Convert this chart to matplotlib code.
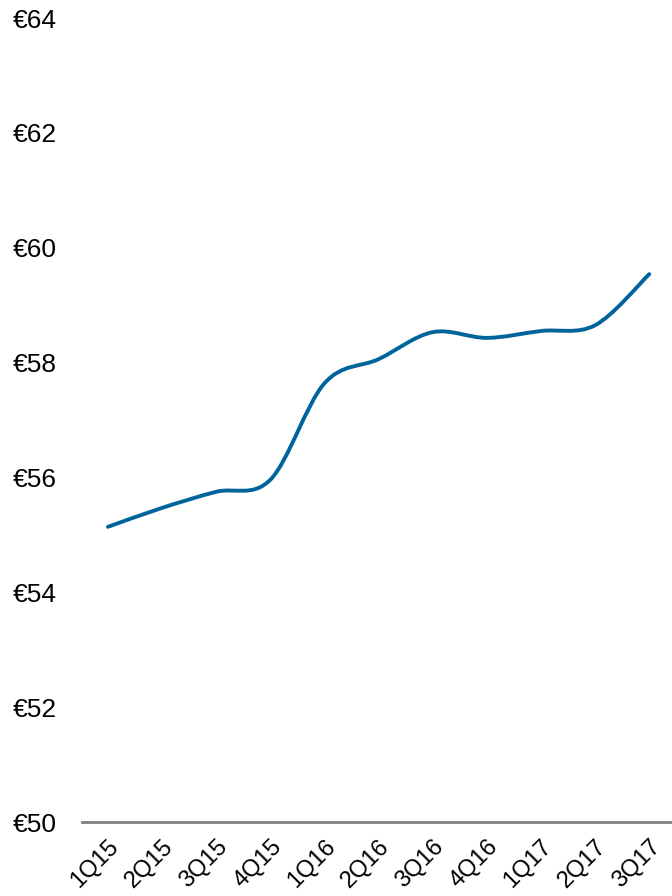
"""Quarterly price line, 1Q15-3Q17, smoothed like a spreadsheet chart."""

import matplotlib

matplotlib.use("Agg")
import matplotlib.pyplot as plt
import numpy as np
from matplotlib.patches import PathPatch
from matplotlib.path import Path

quarters = ["1Q15", "2Q15", "3Q15", "4Q15", "1Q16", "2Q16", "3Q16", "4Q16", "1Q17", "2Q17", "3Q17"]
values = [55.14, 55.47, 55.75, 55.96, 57.64, 58.06, 58.53, 58.43, 58.55, 58.65, 59.54]
yticks = [50, 52, 54, 56, 58, 60, 62, 64]
ytick_labels = [f"€{v}" for v in yticks]

LINE = "#00649C"
plt.rcParams["font.family"] = ["Liberation Sans", "DejaVu Sans"]


def smooth_path(x, y):
    # cubic Bezier through every point, Catmull-Rom style control points
    pts = np.column_stack([x, y])
    verts, codes = [pts[0]], [Path.MOVETO]
    n = len(pts)
    for i in range(n - 1):
        p0 = pts[max(i - 1, 0)]
        p1, p2 = pts[i], pts[i + 1]
        p3 = pts[min(i + 2, n - 1)]
        verts += [p1 + (p2 - p0) / 6, p2 - (p3 - p1) / 6, p2]
        codes += [Path.CURVE4] * 3
    return Path(verts, codes)


fig = plt.figure(figsize=(6.72, 8.96), dpi=100)
ax = fig.add_axes([82 / 672, 74 / 896, 590 / 672, 804 / 896])

x = np.arange(len(quarters))
ax.add_patch(PathPatch(smooth_path(x, values), fill=False, color=LINE, lw=2.8, capstyle="round"))

ax.set_xlim(-0.48, 10.42)
ax.set_ylim(50, 64)
ax.set_yticks(yticks, ytick_labels, fontsize=19)
ax.set_xticks(x, quarters, fontsize=17, rotation=45, ha="right", rotation_mode="anchor")
ax.tick_params(axis="y", length=0, pad=18)
ax.tick_params(axis="x", length=0, pad=10)
for side in ("top", "right", "left"):
    ax.spines[side].set_visible(False)
ax.spines["bottom"].set_color("#808080")
ax.spines["bottom"].set_linewidth(2)

fig.savefig("out.png", dpi=100)
